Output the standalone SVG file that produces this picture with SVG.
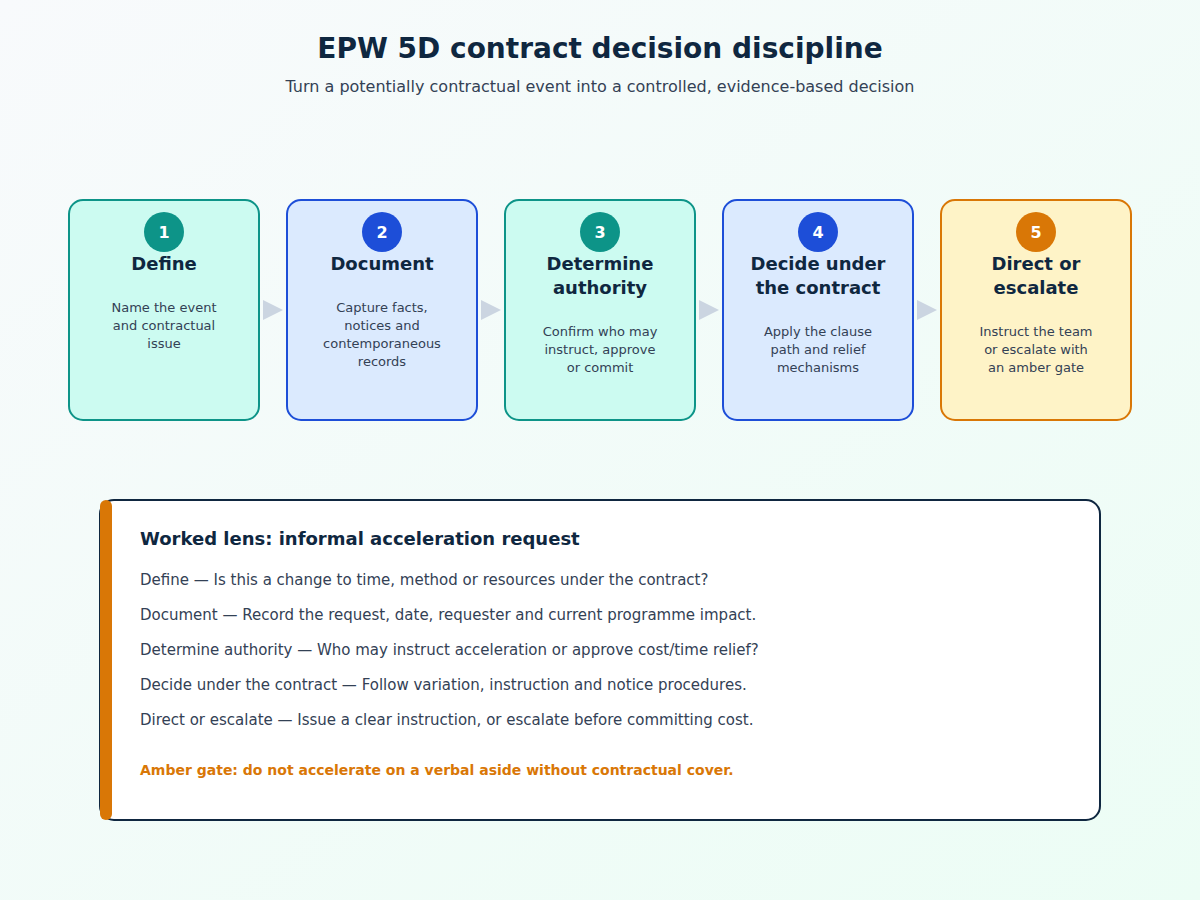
<svg xmlns="http://www.w3.org/2000/svg" width="1200" height="900" viewBox="0 0 1200 900">
<defs>
<linearGradient id="bg" x1="0" y1="0" x2="1" y2="1">
<stop offset="0" stop-color="#f8fafc"/>
<stop offset="1" stop-color="#ecfdf5"/>
</linearGradient>
<style>
text{font-family:"DejaVu Sans","Liberation Sans",sans-serif}
.h1{font-size:28px;font-weight:bold;fill:#0f2740;text-anchor:middle}
.sub{font-size:16px;fill:#334155;text-anchor:middle}
.box{stroke-width:2}
.teal{fill:#ccfbf1;stroke:#0d9488}
.blue{fill:#dbeafe;stroke:#1d4ed8}
.amber{fill:#fef3c7;stroke:#d97706}
.num{font-size:16px;font-weight:bold;fill:#ffffff;text-anchor:middle}
.ttl{font-size:18px;font-weight:bold;fill:#0f2740;text-anchor:middle}
.desc{font-size:13px;fill:#334155;text-anchor:middle}
.arr{fill:#cbd5e1}
.ph{font-size:18px;font-weight:bold;fill:#0f2740}
.pl{font-size:15px;fill:#334155}
.gate{font-size:14px;font-weight:bold;fill:#d97706}
</style>
</defs>
<rect width="1200" height="900" fill="url(#bg)"/>
<text class="h1" x="600" y="58">EPW 5D contract decision discipline</text>
<text class="sub" x="600" y="92">Turn a potentially contractual event into a controlled, evidence-based decision</text>

<g id="connectors">
<polygon class="arr" points="263,300 283,310 263,320"/>
<polygon class="arr" points="481,300 501,310 481,320"/>
<polygon class="arr" points="699,300 719,310 699,320"/>
<polygon class="arr" points="917,300 937,310 917,320"/>
</g>

<g id="step1">
<rect class="box teal" x="69" y="200" width="190" height="220" rx="14"/>
<circle cx="164" cy="232" r="20" fill="#0d9488"/>
<text class="num" x="164" y="238">1</text>
<text class="ttl" x="164" y="270">Define</text>
<text class="desc" x="164" y="312">Name the event</text>
<text class="desc" x="164" y="330">and contractual</text>
<text class="desc" x="164" y="348">issue</text>
</g>

<g id="step2">
<rect class="box blue" x="287" y="200" width="190" height="220" rx="14"/>
<circle cx="382" cy="232" r="20" fill="#1d4ed8"/>
<text class="num" x="382" y="238">2</text>
<text class="ttl" x="382" y="270">Document</text>
<text class="desc" x="382" y="312">Capture facts,</text>
<text class="desc" x="382" y="330">notices and</text>
<text class="desc" x="382" y="348">contemporaneous</text>
<text class="desc" x="382" y="366">records</text>
</g>

<g id="step3">
<rect class="box teal" x="505" y="200" width="190" height="220" rx="14"/>
<circle cx="600" cy="232" r="20" fill="#0d9488"/>
<text class="num" x="600" y="238">3</text>
<text class="ttl" x="600" y="270">Determine</text>
<text class="ttl" x="600" y="294">authority</text>
<text class="desc" x="600" y="336">Confirm who may</text>
<text class="desc" x="600" y="354">instruct, approve</text>
<text class="desc" x="600" y="372">or commit</text>
</g>

<g id="step4">
<rect class="box blue" x="723" y="200" width="190" height="220" rx="14"/>
<circle cx="818" cy="232" r="20" fill="#1d4ed8"/>
<text class="num" x="818" y="238">4</text>
<text class="ttl" x="818" y="270">Decide under</text>
<text class="ttl" x="818" y="294">the contract</text>
<text class="desc" x="818" y="336">Apply the clause</text>
<text class="desc" x="818" y="354">path and relief</text>
<text class="desc" x="818" y="372">mechanisms</text>
</g>

<g id="step5">
<rect class="box amber" x="941" y="200" width="190" height="220" rx="14"/>
<circle cx="1036" cy="232" r="20" fill="#d97706"/>
<text class="num" x="1036" y="238">5</text>
<text class="ttl" x="1036" y="270">Direct or</text>
<text class="ttl" x="1036" y="294">escalate</text>
<text class="desc" x="1036" y="336">Instruct the team</text>
<text class="desc" x="1036" y="354">or escalate with</text>
<text class="desc" x="1036" y="372">an amber gate</text>
</g>

<g id="worked-lens">
<rect x="100" y="500" width="1000" height="320" rx="14" fill="#ffffff" stroke="#0f2740" stroke-width="2"/>
<rect x="100" y="500" width="12" height="320" rx="6" fill="#d97706"/>
<text class="ph" x="140" y="545">Worked lens: informal acceleration request</text>
<text class="pl" x="140" y="585">Define — Is this a change to time, method or resources under the contract?</text>
<text class="pl" x="140" y="620">Document — Record the request, date, requester and current programme impact.</text>
<text class="pl" x="140" y="655">Determine authority — Who may instruct acceleration or approve cost/time relief?</text>
<text class="pl" x="140" y="690">Decide under the contract — Follow variation, instruction and notice procedures.</text>
<text class="pl" x="140" y="725">Direct or escalate — Issue a clear instruction, or escalate before committing cost.</text>
<text class="gate" x="140" y="775">Amber gate: do not accelerate on a verbal aside without contractual cover.</text>
</g>
</svg>
